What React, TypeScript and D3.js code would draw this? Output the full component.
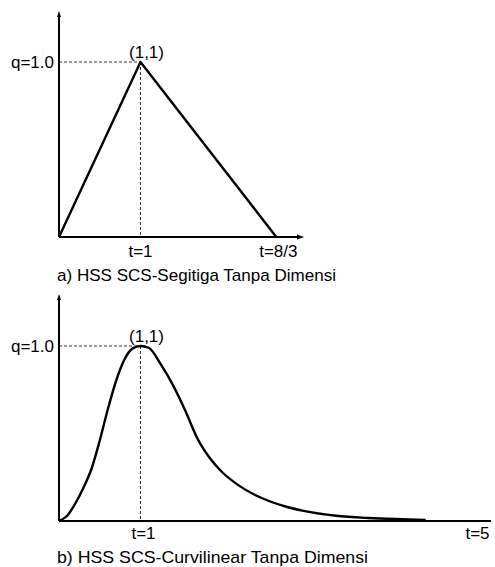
import React from "react";
import * as d3 from "d3";

// Panel a: triangular dimensionless unit hydrograph
const triT = [0, 1, 8 / 3];
const triQ = [0, 1, 0];

// Panel b: curvilinear dimensionless unit hydrograph (t/tp, q/qp)
const curveT = [0, 0.1, 0.2, 0.3, 0.4, 0.5, 0.6, 0.7, 0.8, 0.9, 1.0, 1.1, 1.25, 1.4, 1.55, 1.7, 1.85, 2.0, 2.2, 2.4, 2.6, 2.8, 3.0, 3.4, 3.8, 4.2, 4.5];
const curveQ = [0, 0.03, 0.1, 0.19, 0.3, 0.46, 0.64, 0.8, 0.92, 0.985, 1.0, 0.99, 0.895, 0.775, 0.63, 0.47, 0.36, 0.28, 0.205, 0.15, 0.11, 0.08, 0.058, 0.03, 0.017, 0.01, 0.006];

const peakLabel = "(1,1)";
const yLabel = "q=1.0";
const triTickLabels = ["t=1", "t=8/3"];
const curveTickLabels = ["t=1", "t=5"];
const captionA = "a) HSS SCS-Segitiga Tanpa Dimensi";
const captionB = "b) HSS SCS-Curvilinear Tanpa Dimensi";

const FONT = "Liberation Sans";

function Panel(props: {
  ts: number[];
  qs: number[];
  x0: number;
  y0: number;
  unit: number;
  height: number;
  axisTop: number;
  axisRight: number;
  ticks: { t: number; label: string; dx: number }[];
  tickBaseline: number;
  caption: string;
  captionWidth: number;
  captionBaseline: number;
  curved: boolean;
}) {
  const { ts, qs, x0, y0, unit, height, axisTop, axisRight, ticks, tickBaseline, caption, captionWidth, captionBaseline, curved } = props;
  const x = d3.scaleLinear().domain([0, 1]).range([x0, x0 + unit]);
  const y = d3.scaleLinear().domain([0, 1]).range([y0, y0 - height]);
  const data = ts.map((t, i) => [t, qs[i]] as [number, number]);
  const line = d3
    .line<[number, number]>()
    .x((d) => x(d[0]))
    .y((d) => y(d[1]))
    .curve(curved ? d3.curveMonotoneX : d3.curveLinear);
  const px = x(1);
  const py = y(1);
  return (
    <g>
      {/* dashed guides */}
      <line x1={x(0)} x2={px} y1={py} y2={py} stroke="#000" strokeWidth={0.8} strokeDasharray="3,2" />
      <line x1={px} x2={px} y1={py} y2={y0} stroke="#000" strokeWidth={0.8} strokeDasharray="3,2" />
      {/* curve */}
      <path d={line(data) || ""} fill="none" stroke="#000" strokeWidth={2.4} strokeLinejoin="round" />
      {/* axes */}
      <line x1={x0} x2={x0} y1={y0} y2={axisTop + 4} stroke="#000" strokeWidth={2} />
      <path d={`M${x0 - 2},${axisTop + 6} L${x0},${axisTop} L${x0 + 2},${axisTop + 6} Z`} fill="#000" />
      <line x1={x0} x2={axisRight - 4} y1={y0} y2={y0} stroke="#000" strokeWidth={2} />
      {axisRight < 495 && (
        <path d={`M${axisRight - 7},${y0 - 2.5} L${axisRight},${y0} L${axisRight - 7},${y0 + 2.5} Z`} fill="#000" />
      )}
      {/* labels */}
      <text x={x0 - 5} y={py + 6} textAnchor="end" fontSize={17} fontFamily={FONT}>{yLabel}</text>
      <text x={px + 6} y={py - 4} textAnchor="middle" fontSize={17} fontFamily={FONT}>{peakLabel}</text>
      {ticks.map((tk, i) => (
        <text key={i} x={x(tk.t) + tk.dx} y={tickBaseline} textAnchor="middle" fontSize={17} fontFamily={FONT}>{tk.label}</text>
      ))}
      <text x={57} y={captionBaseline} fontSize={17} fontFamily={FONT} textLength={captionWidth} lengthAdjust="spacingAndGlyphs">{caption}</text>
    </g>
  );
}

export default function App() {
  return (
    <svg width={495} height={567} style={{ position: "absolute", left: 0, top: 0, background: "#fff" }}>
      <rect width={495} height={567} fill="#fff" />
      <Panel
        ts={triT}
        qs={triQ}
        x0={59}
        y0={237}
        unit={81.5}
        height={175}
        axisTop={11}
        axisRight={304}
        ticks={[{ t: 1, label: triTickLabels[0], dx: 0 }, { t: 8 / 3, label: triTickLabels[1], dx: 2 }]}
        tickBaseline={257}
        caption={captionA}
        captionWidth={279}
        captionBaseline={281}
        curved={false}
      />
      <Panel
        ts={curveT}
        qs={curveQ}
        x0={59}
        y0={521}
        unit={81.5}
        height={175}
        axisTop={294}
        axisRight={495}
        ticks={[{ t: 1, label: curveTickLabels[0], dx: 3 }, { t: 5, label: curveTickLabels[1], dx: 11 }]}
        tickBaseline={539}
        caption={captionB}
        captionWidth={311}
        captionBaseline={563}
        curved={true}
      />
    </svg>
  );
}
